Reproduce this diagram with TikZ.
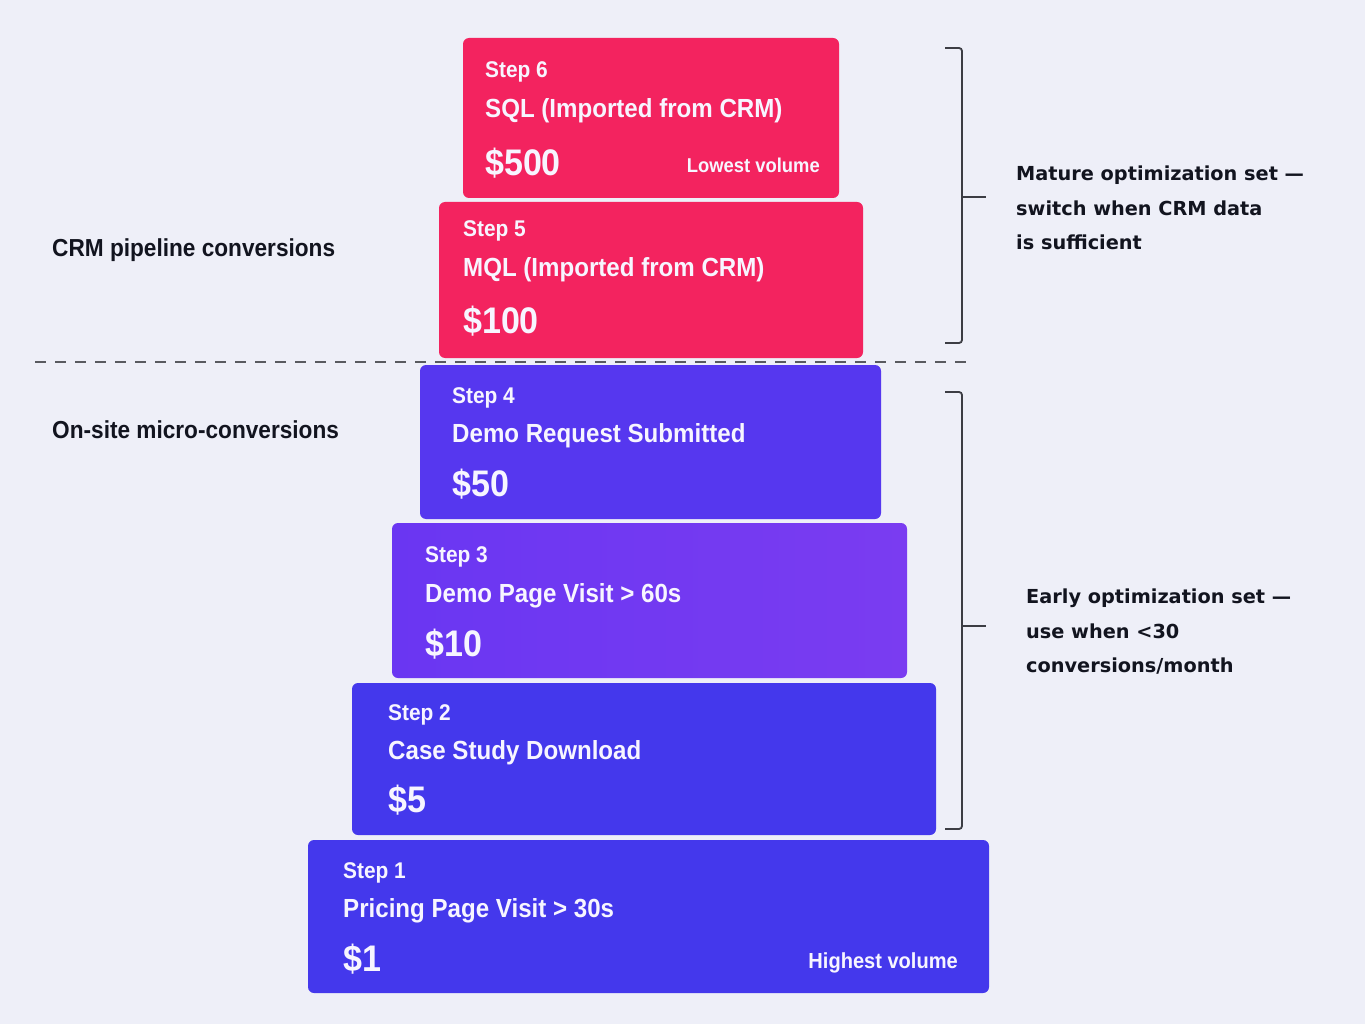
\documentclass[tikz,border=0pt]{standalone}
\usepackage{fontspec}
\setmainfont{Liberation Sans}
\newfontfamily\cond[FakeStretch=0.92]{Liberation Sans}
\newfontfamily\djv{DejaVu Sans}
\definecolor{bg}{HTML}{EEEFF8}
\definecolor{pinkc}{HTML}{F3235F}
\definecolor{indA}{HTML}{5637EF}
\definecolor{vioL}{HTML}{6A36F2}
\definecolor{vioR}{HTML}{7A3CF1}
\definecolor{indB}{HTML}{4438EC}
\definecolor{boxtxt}{HTML}{F7F5FF}
\definecolor{darktxt}{HTML}{12141F}
\definecolor{brkc}{HTML}{3C3D44}
\begin{document}
\begin{tikzpicture}[x=1pt,y=-1pt,
  box/.style={rounded corners=6pt, inner sep=0pt, outer sep=0pt, anchor=north west, draw=none},
  stepname/.style={anchor=base west, inner sep=0pt, text=boxtxt, font=\cond\bfseries\fontsize{22.7}{22.7}\selectfont},
  steptitle/.style={anchor=base west, inner sep=0pt, text=boxtxt, font=\cond\bfseries\fontsize{26.2}{26.2}\selectfont},
  stepprice/.style={anchor=base west, inner sep=0pt, text=boxtxt, font=\cond\bfseries\fontsize{37}{37}\selectfont},
  volnote/.style={anchor=base east, inner sep=0pt, text=boxtxt, font=\cond\bfseries\fontsize{20}{20}\selectfont},
  sidelbl/.style={anchor=base west, inner sep=0pt, text=darktxt, font=\cond\bfseries\fontsize{24.6}{24.6}\selectfont},
  notelbl/.style={anchor=north west, inner sep=0pt, text=darktxt, align=left, font=\djv\bfseries\fontsize{19.3}{34.5}\selectfont},
  brk/.style={draw=brkc, line width=1.8pt, rounded corners=3pt},
  divider/.style={draw=brkc!85, line width=2pt, dash pattern=on 11pt off 9pt}
]
\fill[bg] (0,0) rectangle (1365,1024);
\useasboundingbox (0,0) rectangle (1365,1024);

% boxes
\node[box, fill=pinkc, minimum width=376pt, minimum height=160pt] (s6) at (463,38) {};
\node[box, fill=pinkc, minimum width=424pt, minimum height=156pt] (s5) at (439,202) {};
\node[box, fill=indA, minimum width=461pt, minimum height=154pt] (s4) at (420,365) {};
\node[box, left color=vioL, right color=vioR, minimum width=515pt, minimum height=155pt] (s3) at (392,523) {};
\node[box, fill=indB, minimum width=584pt, minimum height=152pt] (s2) at (352,683) {};
\node[box, fill=indB, minimum width=681pt, minimum height=153pt] (s1) at (308,840) {};

% step 6
\node[stepname] (t6a) at (485,78) {Step 6};
\node[steptitle] (t6b) at (485,118) {SQL (Imported from CRM)};
\node[stepprice] (t6c) at (485,176) {\$500};
\node[volnote, font=\cond\bfseries\fontsize{20}{20}\selectfont] (t6d) at (820,173) {Lowest volume};
% step 5
\node[stepname] (t5a) at (463,237) {Step 5};
\node[steptitle] (t5b) at (463,277) {MQL (Imported from CRM)};
\node[stepprice] (t5c) at (463,334) {\$100};
% step 4
\node[stepname] (t4a) at (452,403) {Step 4};
\node[steptitle] (t4b) at (452,442) {Demo Request Submitted};
\node[stepprice] (t4c) at (452,496) {\$50};
% step 3
\node[stepname] (t3a) at (425,562) {Step 3};
\node[steptitle] (t3b) at (425,602) {Demo Page Visit > 60s};
\node[stepprice] (t3c) at (425,656) {\$10};
% step 2
\node[stepname] (t2a) at (388,720) {Step 2};
\node[steptitle] (t2b) at (388,759) {Case Study Download};
\node[stepprice] (t2c) at (388,812) {\$5};
% step 1
\node[stepname] (t1a) at (343,878) {Step 1};
\node[steptitle] (t1b) at (343,917) {Pricing Page Visit > 30s};
\node[stepprice] (t1c) at (343,971) {\$1};
\node[volnote, font=\cond\bfseries\fontsize{21.8}{21.8}\selectfont] (t1d) at (958,968) {Highest volume};

% divider
\coordinate (dl) at (35,362);
\coordinate (dr) at (968,362);
\draw[divider] (dl) -- (dr);

% side labels
\node[sidelbl] (crm) at (52,257) {CRM pipeline conversions};
\node[sidelbl] (onsite) at (52,438) {On-site micro-conversions};

% brackets
\coordinate (b1t) at (945,48);
\coordinate (b1b) at (945,343);
\coordinate (b1m) at (962,197);
\coordinate (b1k) at (986,197);
\draw[brk] (b1t) -- (962,48) -- (962,343) -- (b1b);
\draw[brk, rounded corners=0pt] (b1m) -- (b1k);

\coordinate (b2t) at (945,392);
\coordinate (b2b) at (945,829);
\coordinate (b2m) at (962,626);
\coordinate (b2k) at (986,626);
\draw[brk] (b2t) -- (962,392) -- (962,829) -- (b2b);
\draw[brk, rounded corners=0pt] (b2m) -- (b2k);

% notes
\node[notelbl] (mature) at (1016,166) {Mature optimization set —\\switch when CRM data\\is sufficient};
\node[notelbl] (early) at (1026,589) {Early optimization set —\\use when <30\\conversions/month};
\end{tikzpicture}
\end{document}
